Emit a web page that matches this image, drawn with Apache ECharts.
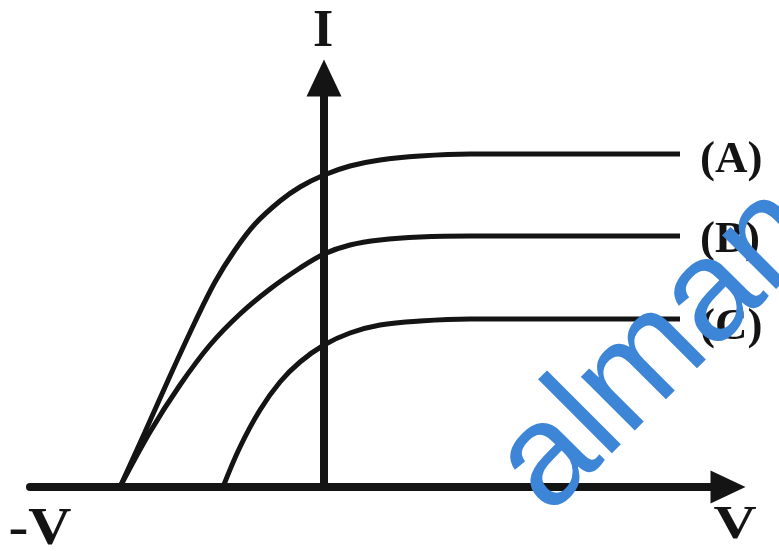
<!DOCTYPE html>
<html>
<head>
<meta charset="utf-8">
<title>I - V</title>
<script src="https://cdn.jsdelivr.net/npm/echarts/dist/echarts.min.js"></script>
<style>
  html, body { margin: 0; padding: 0; background: #fff; }
  #chart { width: 779px; height: 551px; }
</style>
</head>
<body>
<div id="chart"></div>
<script>
// curve labels
const curveLabels = ['(A)', '(B)', '(C)'];

// [V, I] points (arbitrary units)
const curveA = [[-2.04, 0], [-1.79, 0.55], [-1.54, 1.11], [-1.29, 1.65], [-1.09, 2.05], [-0.89, 2.37],
  [-0.69, 2.63], [-0.44, 2.86], [-0.24, 3.00], [0, 3.12], [0.26, 3.21], [0.56, 3.27], [0.96, 3.31],
  [1.46, 3.33], [3.56, 3.33]];
const curveB = [[-2.04, 0], [-1.74, 0.55], [-1.44, 1.02], [-1.14, 1.42], [-0.84, 1.73], [-0.54, 1.98],
  [-0.24, 2.19], [0, 2.33], [0.26, 2.42], [0.56, 2.47], [0.96, 2.50], [1.46, 2.51], [3.56, 2.51]];
const curveC = [[-1.01, 0], [-0.84, 0.40], [-0.64, 0.77], [-0.44, 1.05], [-0.24, 1.25], [0, 1.42],
  [0.26, 1.54], [0.56, 1.62], [0.96, 1.66], [1.46, 1.68], [3.56, 1.68]];

// axis text
const xNegLabel = '-V';
const xPosLabel = 'V';
const yLabel = 'I';
const watermark = 'alman';

const serif = '"Liberation Serif", "DejaVu Serif", serif';
const ink = '#141414';

let chart = echarts.init(document.getElementById('chart'));

// label offsets to sit the text a little below each saturation line
const labelOffsets = [[0, 6], [0, 4], [0, 8]];

let series = [curveA, curveB, curveC].map((data, i) => {
  return {
    type: 'line',
    data: data,
    smooth: 0.35,
    showSymbol: false,
    lineStyle: { color: ink, width: 5 },
    endLabel: {
      show: true,
      formatter: curveLabels[i],
      distance: 20,
      offset: labelOffsets[i],
      fontFamily: serif,
      fontWeight: 'bold',
      fontSize: 45,
      color: ink
    }
  };
});

let option = {
  backgroundColor: '#fff',
  animation: false,
  grid: { left: 30, right: 51, top: 78, bottom: 64 },
  xAxis: {
    type: 'value',
    min: -2.94,
    max: 4.04,
    axisLine: {
      show: true,
      onZero: false,
      symbol: ['none', 'triangle'],
      symbolSize: [33, 35],
      lineStyle: { color: ink, width: 8 }
    },
    axisTick: { show: false },
    axisLabel: { show: false },
    splitLine: { show: false }
  },
  yAxis: {
    type: 'value',
    min: 0,
    max: 4.09,
    axisLine: {
      show: true,
      onZero: true,
      symbol: ['none', 'triangle'],
      symbolSize: [35, 37],
      lineStyle: { color: ink, width: 8 }
    },
    axisTick: { show: false },
    axisLabel: { show: false },
    splitLine: { show: false }
  },
  series: series,
  graphic: [
    {
      type: 'text', x: 323, y: 33,
      style: { text: yLabel, font: 'bold 52px ' + serif, fill: ink, textAlign: 'center', textVerticalAlign: 'middle' }
    },
    {
      type: 'text', x: 40, y: 531, scaleX: 1.15,
      style: { text: xNegLabel, font: 'bold 52px ' + serif, fill: ink, textAlign: 'center', textVerticalAlign: 'middle' }
    },
    {
      type: 'text', x: 735, y: 526, scaleX: 1.3,
      style: { text: xPosLabel, font: 'bold 46px ' + serif, fill: ink, textAlign: 'center', textVerticalAlign: 'middle' }
    },
    {
      // blue watermark over the right side
      type: 'text', x: 659, y: 350, rotation: Math.PI / 4, z: 100,
      style: { text: watermark, font: '144px "Liberation Sans", Arial, sans-serif', fill: '#3d85d6', textAlign: 'center', textVerticalAlign: 'middle' }
    }
  ]
};

chart.setOption(option);
</script>
</body>
</html>
